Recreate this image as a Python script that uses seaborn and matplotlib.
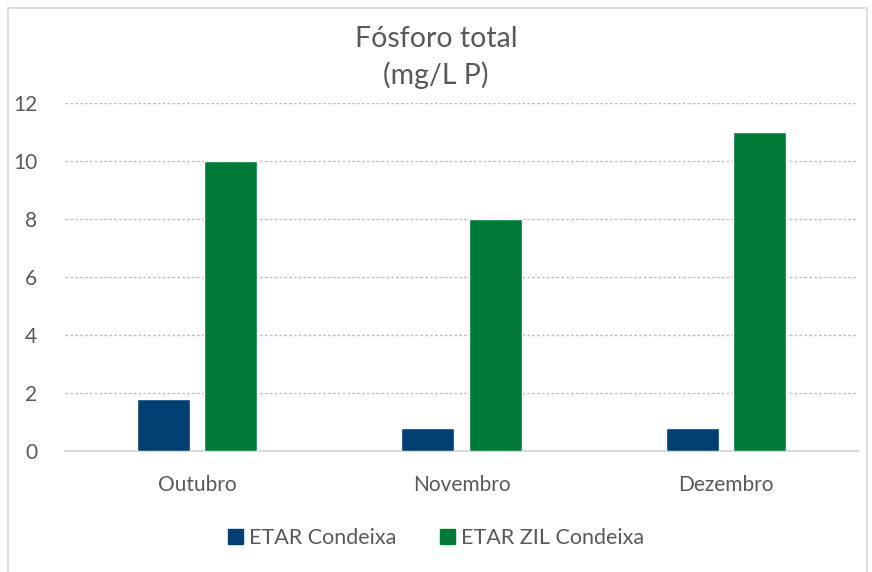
import pandas as pd
import matplotlib.pyplot as plt
import seaborn as sns
from matplotlib.patches import Rectangle

# Dados
meses = ['Outubro', 'Novembro', 'Dezembro']
etar_condeixa = [1.8, 0.8, 0.8]
etar_zil_condeixa = [10, 8, 11]
series = ['ETAR Condeixa', 'ETAR ZIL Condeixa']
cores = ['#003F72', '#007A37']

df = pd.DataFrame({
    'mes': meses * 2,
    'valor': etar_condeixa + etar_zil_condeixa,
    'serie': [series[0]] * 3 + [series[1]] * 3,
})

sns.set_style("white")
plt.rcParams['font.family'] = ['Lato', 'DejaVu Sans']
texto = '#595959'

fig = plt.figure(figsize=(8.72, 5.72), dpi=100)
ax = fig.add_axes([0.0745, 0.2115, 0.9095, 0.6085])

sns.barplot(data=df, x='mes', y='valor', hue='serie', palette=cores, saturation=1,
            width=0.511, gap=0.215, ax=ax, legend=False, zorder=3)

ax.set_ylim(0, 12)
ax.set_xlim(-0.5, 2.5)
ax.set_yticks(range(0, 13, 2))
ax.yaxis.grid(True, linestyle=(0, (2, 1.5)), color='#bfbfbf', linewidth=1)
ax.set_axisbelow(True)
for s in ['top', 'right', 'left']:
    ax.spines[s].set_visible(False)
ax.spines['bottom'].set_color('#d9d9d9')
ax.spines['bottom'].set_linewidth(1.5)
ax.tick_params(axis='both', length=0, colors=texto, labelsize=15)
ax.tick_params(axis='x', pad=17)
ax.tick_params(axis='y', pad=20)
ax.set_xlabel('')
ax.set_ylabel('')

fig.text(0.5, 0.9, 'Fósforo total\n(mg/L P)', ha='center', va='center',
         fontsize=20.5, color=texto, linespacing=1.4)

handles = [Rectangle((0, 0), 1, 1, color=c) for c in cores]
fig.legend(handles, series, loc='center', bbox_to_anchor=(0.5, 0.06), ncol=2,
           frameon=False, fontsize=15.5, labelcolor=texto, handlelength=0.7,
           handleheight=0.7, handletextpad=0.3, columnspacing=2.0)

# moldura do gráfico
fig.patches.append(Rectangle((0.009, -0.01), 0.985, 0.996, transform=fig.transFigure,
                             fill=False, edgecolor='#d9d9d9', linewidth=1.2))

fig.savefig('out.png', dpi=100)
plt.close()
